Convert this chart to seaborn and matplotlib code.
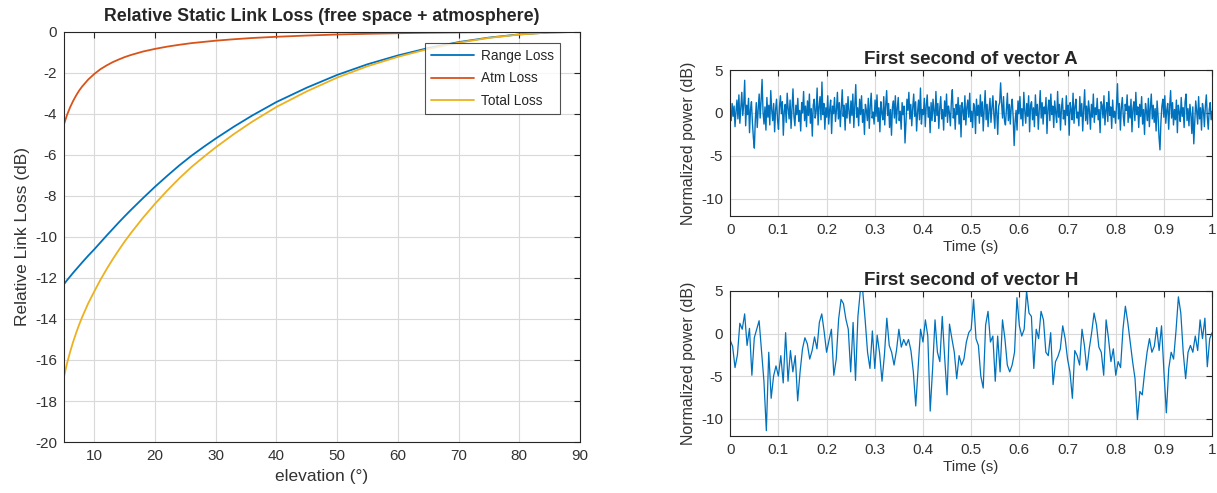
import numpy as np
import pandas as pd
import seaborn as sns
import matplotlib.pyplot as plt

# ---- data ----
elevation = [5, 5.5, 6, 6.5, 7, 7.5, 8, 9, 10, 11, 12, 13, 14, 15, 16, 18, 20, 22, 24,
             26, 28, 30, 33, 36, 40, 45, 50, 55, 60, 65, 70, 75, 80, 85, 90]
range_loss = [-12.30, -12.11, -11.93, -11.75, -11.58, -11.41, -11.24, -10.91, -10.60,
              -10.27, -9.94, -9.62, -9.30, -8.99, -8.69, -8.11, -7.55, -7.02, -6.51,
              -6.04, -5.61, -5.20, -4.62, -4.08, -3.42, -2.72, -2.10, -1.58, -1.15,
              -0.79, -0.50, -0.28, -0.124, -0.03, 0.0]
atm_loss = [-4.50, -4.05, -3.68, -3.37, -3.10, -2.86, -2.66, -2.32, -2.05, -1.82, -1.64,
            -1.48, -1.35, -1.23, -1.13, -0.96, -0.83, -0.72, -0.63, -0.55, -0.49, -0.43,
            -0.36, -0.30, -0.24, -0.18, -0.13, -0.095, -0.067, -0.044, -0.028, -0.015,
            -0.006, -0.002, 0.0]
total_loss = [-16.80, -16.16, -15.61, -15.12, -14.68, -14.27, -13.90, -13.23, -12.65,
              -12.09, -11.58, -11.10, -10.65, -10.22, -9.82, -9.07, -8.38, -7.74, -7.14,
              -6.59, -6.10, -5.63, -4.98, -4.38, -3.66, -2.90, -2.23, -1.675, -1.217,
              -0.834, -0.528, -0.295, -0.130, -0.032, 0.0]
loss_names = ["Range Loss", "Atm Loss", "Total Loss"]

vector_a = [
    0.3, -0.9, 1.1, -0.4, 0.8, -1.6, 0.2, 1.5, -0.7, 2.1,
    -1.2, 0.6, 2.4, -0.3, 1.0, 3.8, -1.5, 0.9, -0.2, 1.7,
    -2.3, 0.4, 1.3, -1.1, -2.9, -4.1, -0.8, 1.2, -1.7, 0.5,
    2.2, -0.6, 1.4, 3.9, 0.1, -1.3, 0.7, -2.0, 1.8, -0.5,
    0.9, -1.4, 2.6, 0.3, -0.9, 1.1, -2.2, 0.4, 1.6, -0.8,
    -1.9, 0.7, 2.0, -0.1, 1.3, -2.6, 0.2, 1.0, -1.1, 2.3,
    0.5, -0.7, 1.5, -1.8, 0.6, 2.8, -0.4, -1.5, 0.9, -0.2,
    1.7, -1.0, 0.3, -2.1, 1.2, 0.0, 2.5, -0.9, 0.8, -1.6,
    1.4, -0.3, 2.2, -1.2, 0.5, -2.7, 0.9, 1.6, -0.6, 0.2,
    2.9, -1.4, 0.7, 1.9, -0.8, 3.6, -0.2, 1.1, -1.9, 0.6,
    -0.5, 2.0, -1.3, 0.4, 1.5, -2.4, 0.8, -0.1, 1.8, -1.0,
    0.3, 2.4, -0.7, 1.2, -1.6, 0.5, 2.7, -0.4, 0.9, -2.0,
    1.1, -0.6, 1.9, 0.2, -1.2, 1.4, -0.3, 2.2, -1.7, 0.7,
    3.3, -0.5, 0.6, -1.5, 1.6, -0.2, 2.0, -1.1, 0.4, -2.5,
    1.0, 0.3, -0.9, 1.7, -1.8, 0.8, 2.3, -0.6, 0.1, -1.3,
    1.5, -0.4, 2.1, -1.0, 0.6, -2.2, 1.3, 0.0, -0.8, 1.9,
    -1.4, 0.9, 2.6, -0.3, 1.1, -1.7, 0.4, -2.6, 0.7, 1.4,
    -0.6, 2.0, -1.2, 0.5, 1.8, -0.9, 0.2, -1.9, 1.2, -0.2,
    0.8, -3.5, -1.1, 1.6, 0.3, 2.4, -0.7, 1.0, -1.5, 0.6,
    2.2, -0.4, 1.3, -2.1, 0.1, 1.5, -0.8, 2.9, -1.3, 0.4,
    -0.2, 1.7, -1.6, 0.9, 2.1, -0.5, 0.7, -2.3, 1.2, -0.9,
    1.6, 0.2, -1.0, 2.5, -0.3, 1.1, -1.8, 0.6, 1.9, -0.7,
    0.4, -2.0, 1.4, -0.4, 2.2, -1.1, 0.8, 0.0, -1.5, 1.3,
    2.7, -0.6, 0.5, -1.9, 1.0, -0.2, 1.8, -1.3, 0.9, -2.8,
    1.2, 0.3, -0.8, 2.0, -1.4, 0.6, 1.5, -0.5, 2.3, -1.0,
    0.2, -1.7, 1.1, 0.7, -2.4, 1.6, -0.3, 0.9, -1.2, 2.1,
    -0.4, 1.3, -2.1, 0.5, 2.6, -0.8, 1.0, -1.6, 0.3, 1.7,
    -1.1, 0.6, 2.0, -0.2, -1.8, 1.4, 0.1, -2.5, 0.8, 1.2,
    3.5, 1.1, -0.6, 1.9, -0.9, -1.4, 0.4, 2.3, -0.9, 1.0,
    -1.3, 0.7, 1.6, -0.5, -3.8, -1.0, 0.3, -2.0, 1.4, -0.1,
    1.9, -0.7, 0.5, -1.5, 2.4, 0.2, -1.2, 1.1, -0.4, 2.0,
    -2.2, 0.9, 1.3, -0.8, 0.6, -1.6, 2.1, -0.3, 1.0, -1.9,
    0.4, 2.6, -0.6, 1.2, -1.3, 0.7, -0.1, 1.8, -2.4, 0.5,
    1.5, -0.9, 2.2, -0.2, 0.8, -1.7, 1.4, 0.0, -1.1, 2.5,
    -0.5, 1.0, -2.0, 0.6, 1.7, -0.7, 0.3, -1.4, 2.0, -0.3,
    0.9, -2.6, 1.2, 0.4, -0.8, 2.3, -1.2, 0.7, 1.6, -0.6,
    0.1, -1.5, 1.9, -0.4, 1.1, -2.1, 0.5, 2.7, -0.9, 0.8,
    -1.3, 1.4, 0.2, -1.9, 1.0, -0.5, 2.2, -1.1, 0.6, -0.2,
    1.7, -0.8, 0.4, -2.3, 1.3, 0.9, -0.6, 2.0, -1.4, 0.3,
    1.2, -1.0, 2.5, -0.3, 0.7, -1.8, 1.5, -0.5, 0.2, -1.2,
    0.9, 3.4, -0.7, 1.1, -2.0, 0.6, 1.8, -0.4, -1.5, 1.0,
    0.3, 2.1, -1.1, 0.8, -0.6, 1.6, -2.2, 0.5, 1.3, -0.9,
    2.4, -0.2, 0.7, -1.7, 1.0, -0.4, 1.9, -1.3, 0.4, -2.5,
    1.1, 0.2, -0.9, 1.7, -1.6, 0.6, 2.2, -0.7, 0.9, -1.1,
    0.5, -2.1, 1.4, -0.3, -2.8, -4.3, -1.0, 0.8, 1.6, -0.5,
    2.0, -1.2, 0.3, 1.1, -1.9, 0.7, 2.6, -0.6, 1.2, -1.4,
    0.4, -0.8, 1.5, -2.3, 0.9, 0.1, -1.0, 1.8, -0.4, 0.6,
    -1.7, 1.3, 2.2, -0.9, 0.5, -1.5, 1.0, -0.2, -2.4, 0.7,
    -3.6, -1.1, 1.4, 0.2, -1.3, 1.9, -0.7, 0.6, -2.0, 1.1,
    0.3, -1.6, 0.8, 2.1, -0.5, -1.9, 0.4, 1.2, -0.8, 0.2,
]

vector_h = [
    -0.8, -1.5, -4.0, -2.5, 1.2, 0.5, 2.3, -1.4, 0.6, -4.9,
    -0.5, 0.5, 1.5, -2.0, -5.6, -11.4, -2.2, -7.6, -5.0, -3.8,
    -5.0, -2.6, -5.8, 0.1, -5.6, -2.0, -4.5, -2.6, -7.9, -4.5,
    -1.8, -0.5, -1.2, -3.0, -2.0, -0.4, -1.8, 1.3, 2.3, 0.2,
    -2.2, -0.8, 0.5, -4.9, -3.0, 1.7, 4.0, 3.5, 1.7, 0.5,
    -4.5, 1.3, -5.5, 2.0, 5.0, 5.0, 1.6, -2.2, -4.1, 0.3,
    -4.1, -0.2, -2.3, -5.6, -2.5, 1.8, -1.4, -2.2, -3.7, -2.0,
    0.5, -1.6, -0.7, -1.4, -0.7, -2.0, -4.5, -8.5, -4.0, 0.5,
    -1.0, 1.6, -0.3, -9.1, -4.1, 1.6, -2.2, -3.3, 2.0, -2.8,
    -7.2, 1.1, -0.6, -2.2, -5.3, -2.6, -3.7, -3.0, -1.0, 0.1,
    0.5, 4.0, -0.6, -1.4, -5.0, -6.4, 1.0, 2.6, -1.0, -0.3,
    -5.6, -0.3, -4.5, 1.6, -0.6, -3.7, -4.5, -3.7, -2.2, 4.2,
    0.9, -0.3, 0.5, 5.0, 2.4, 2.0, -4.1, 0.5, -0.6, 2.6,
    1.6, -2.2, -2.6, 0.1, -6.0, -3.3, -2.7, -1.8, 0.9, -0.6,
    -3.0, -4.5, -7.6, -2.0, -2.6, -3.7, 0.5, -1.4, -4.3, -1.8,
    0.1, 2.4, 1.0, -1.6, -2.2, -4.9, 1.6, -0.6, -3.3, -1.8,
    -4.9, -3.3, -4.0, 0.5, 3.2, 1.3, -1.0, -3.3, -5.3, -10.1,
    -6.8, -7.2, -4.5, -2.2, -0.6, -2.2, -1.5, 0.7, -2.0, 0.9,
    -4.5, -9.3, -4.1, -2.2, -3.0, 0.3, 4.3, 2.4, -2.2, -5.3,
    -2.2, -1.4, -2.2, -0.3, -2.0, 1.6, -0.6, 1.8, -3.9, -0.6,
    0.1,
]

time_ticks = [0, 0.1, 0.2, 0.3, 0.4, 0.5, 0.6, 0.7, 0.8, 0.9, 1]
time_labels = ["0", "0.1", "0.2", "0.3", "0.4", "0.5", "0.6", "0.7", "0.8", "0.9", "1"]

# ---- style ----
sns.set_theme(style="white")
plt.rcParams['font.family'] = ['Liberation Sans', 'DejaVu Sans']
plt.rcParams.update({
    "axes.unicode_minus": False,
    "axes.edgecolor": "#262626",
    "axes.linewidth": 0.8,
    "xtick.color": "#262626",
    "ytick.color": "#262626",
    "xtick.labelcolor": "#333333",
    "ytick.labelcolor": "#333333",
    "xtick.direction": "in",
    "ytick.direction": "in",
    "xtick.major.size": 4,
    "ytick.major.size": 4,
    "xtick.major.width": 0.8,
    "ytick.major.width": 0.8,
    "xtick.labelsize": 11,
    "ytick.labelsize": 11,
})

blue, orange, yellow = "#0072BD", "#D95319", "#EDB120"
grid_kw = dict(color="#d9d9d9", linewidth=0.8)


def matlab_axes(ax):
    ax.grid(True, **grid_kw)
    ax.set_axisbelow(True)
    ax.tick_params(top=True, right=True, pad=5)
    for s in ax.spines.values():
        s.set_visible(True)


fig = plt.figure(figsize=(12.17, 4.93), dpi=100)

# left: link loss vs elevation
ax1 = fig.add_axes([0.0526, 0.1034, 0.424, 0.832])
loss_df = pd.DataFrame({
    "elevation": elevation * 3,
    "loss": range_loss + atm_loss + total_loss,
    "curve": [n for n in loss_names for _ in elevation],
})
sns.lineplot(data=loss_df, x="elevation", y="loss", hue="curve", hue_order=loss_names,
             palette=[blue, orange, yellow], linewidth=1.3, estimator=None, ax=ax1)
ax1.set_xlim(5, 90)
ax1.set_ylim(-20, 0)
ax1.set_xticks(range(10, 91, 10))
ax1.set_yticks(range(-20, 1, 2))
ax1.set_xlabel("elevation (°)", fontsize=12.5, color="#333333")
ax1.set_ylabel("Relative Link Loss (dB)", fontsize=12.5, color="#333333")
ax1.set_title("Relative Static Link Loss (free space + atmosphere)", fontsize=12.8,
              fontweight="bold", pad=8)
matlab_axes(ax1)
leg = ax1.legend(loc="upper right", bbox_to_anchor=(0.975, 0.99), fontsize=9.8,
                 frameon=True, fancybox=False, edgecolor="#262626", borderpad=0.45,
                 handlelength=3.2, labelspacing=0.62, handletextpad=0.5)
leg.get_frame().set_linewidth(0.8)

# right: the two time series
t_a = np.linspace(0, 1, len(vector_a))
t_h = np.linspace(0, 1, len(vector_h))
for pos, t, vec, name, lw in [([0.600, 0.562, 0.396, 0.296], t_a, vector_a, "A", 1.0),
                              ([0.600, 0.116, 0.396, 0.294], t_h, vector_h, "H", 0.9)]:
    ax = fig.add_axes(pos)
    sns.lineplot(x=t, y=vec, color=blue, linewidth=lw, estimator=None, ax=ax)
    ax.set_xlim(0, 1)
    ax.set_ylim(-12, 5)
    ax.set_yticks([-10, -5, 0, 5])
    ax.set_xticks(time_ticks)
    ax.set_xticklabels(time_labels)
    ax.set_xlabel("Time (s)", fontsize=11, color="#333333", labelpad=2)
    ax.set_ylabel("Normalized power (dB)", fontsize=11.5, color="#333333")
    ax.set_title(f"First second of vector {name}", fontsize=13.5, fontweight="bold", pad=4)
    matlab_axes(ax)

plt.savefig("out.png", dpi=100)
